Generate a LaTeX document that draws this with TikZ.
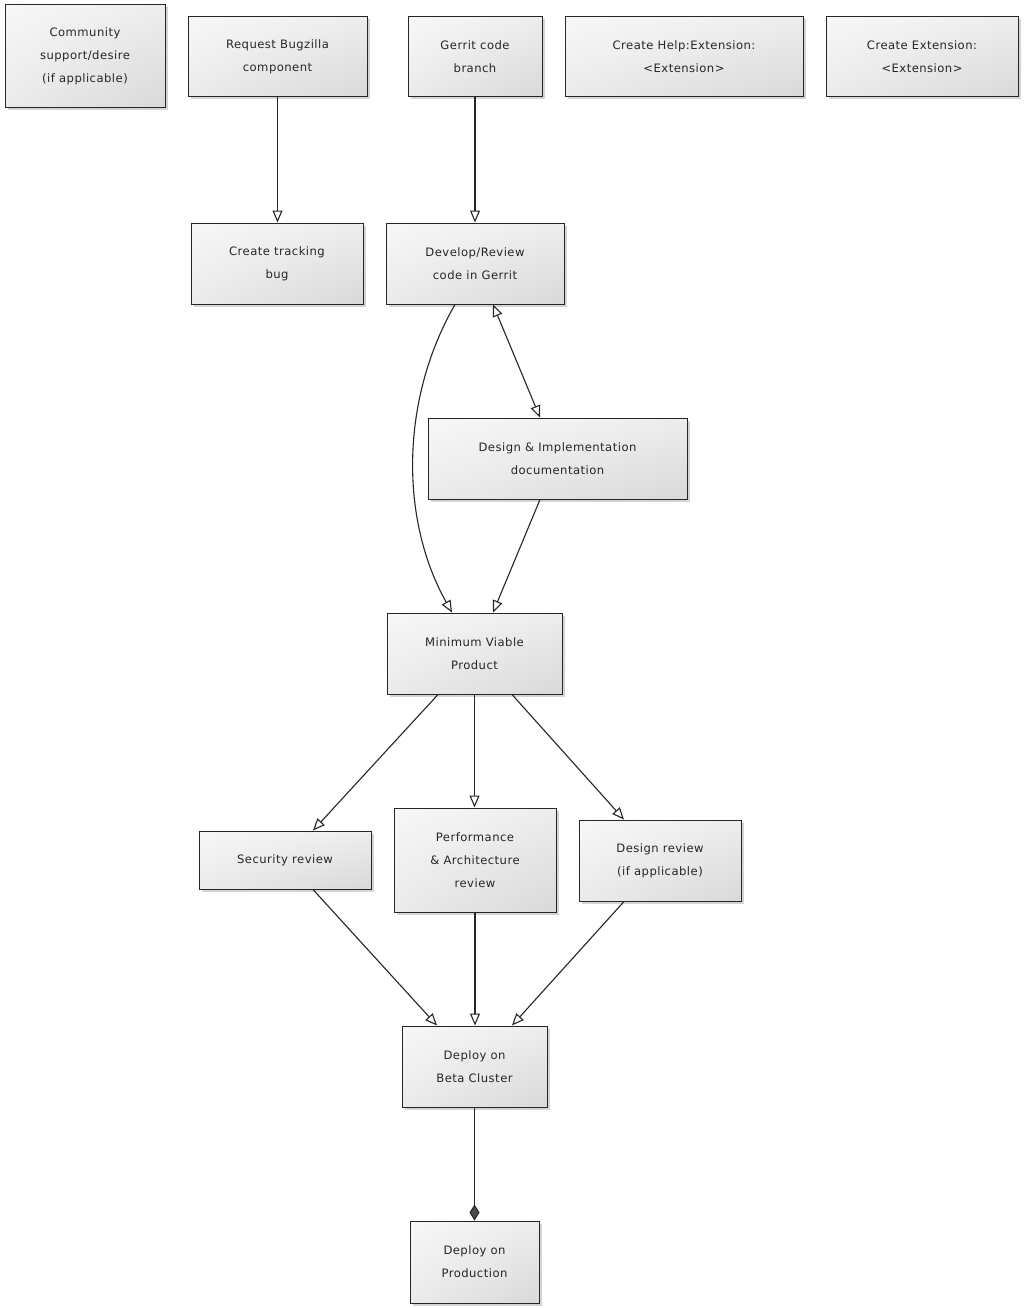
\documentclass[tikz,border=0pt]{standalone}
\usepackage{fontspec}
\setmainfont{DejaVu Sans}[LetterSpace=4]
\usetikzlibrary{arrows.meta,shadows,shadings}
\begin{document}
\begin{tikzpicture}[x=1pt,y=-1pt,
  box/.style={draw=black!85, line width=1pt, rectangle, inner sep=0pt, align=center,
    upper left=black!3, upper right=black!7, lower left=black!8, lower right=black!15,
    drop shadow={shadow xshift=2.5pt, shadow yshift=-2.5pt, opacity=0.3, fill=black!55},
    font={\fontsize{11.6}{23}\selectfont}, text=black!85},
  conn/.style={draw=black!85, line width=1.1pt, -{Triangle[open, length=12pt, width=10pt]}},
  both/.style={draw=black!85, line width=1.1pt, {Triangle[open, length=12pt, width=10pt]}-{Triangle[open, length=12pt, width=10pt]}},
  diam/.style={draw=black!85, line width=1.1pt, -{Diamond[length=16pt, width=10pt, fill=black!70]}}]
\useasboundingbox (0,0) rectangle (1024,1308);
\fill[white] (0,0) rectangle (1024,1308);

\node[box, minimum width=160pt, minimum height=103pt] (comm) at (85,56.5) {Community\\support/desire\\(if applicable)};
\node[box, minimum width=179pt, minimum height=80pt] (req) at (277.5,57) {Request Bugzilla\\component};
\node[box, minimum width=134pt, minimum height=80pt] (gerrit) at (475,57) {Gerrit code\\branch};
\node[box, minimum width=238pt, minimum height=80pt] (help) at (684,57) {Create Help:Extension:\\<Extension>};
\node[box, minimum width=192pt, minimum height=80pt] (ext) at (922,57) {Create Extension:\\<Extension>};
\node[box, minimum width=172pt, minimum height=81pt] (track) at (277,263.5) {Create tracking\\bug};
\node[box, minimum width=178pt, minimum height=81pt] (dev) at (475,263.5) {Develop/Review\\code in Gerrit};
\node[box, minimum width=259pt, minimum height=81pt] (design) at (557.5,458.5) {Design \& Implementation\\documentation};
\node[box, minimum width=175pt, minimum height=81pt] (mvp) at (474.5,653.5) {Minimum Viable\\Product};
\node[box, minimum width=172pt, minimum height=58pt] (sec) at (285,860) {Security review};
\node[box, minimum width=162pt, minimum height=104pt] (perf) at (475,860) {Performance\\\& Architecture\\review};
\node[box, minimum width=162pt, minimum height=81pt] (drev) at (660,860.5) {Design review\\(if applicable)};
\node[box, minimum width=145pt, minimum height=81pt] (beta) at (474.5,1066.5) {Deploy on\\Beta Cluster};
\node[box, minimum width=129pt, minimum height=82pt] (prod) at (474.5,1262) {Deploy on\\Production};

\draw[conn] (req.south) -- (req.south |- track.north);
\draw[conn] (gerrit.south) -- (dev.north);
\draw[both] ([xshift=18pt]dev.south) -- ([xshift=-17.5pt]design.north);
\draw[conn] ([xshift=-20pt]dev.south) .. controls (400,400) and (400,520) .. ([xshift=-22.5pt]mvp.north);
\draw[conn] ([xshift=-17.5pt]design.south) -- ([xshift=18.5pt]mvp.north);
\draw[conn] ([xshift=-36.5pt]mvp.south) -- ([xshift=28pt]sec.north);
\draw[conn] (mvp.south) -- (mvp.south |- perf.north);
\draw[conn] ([xshift=37.5pt]mvp.south) -- ([xshift=-36pt]drev.north);
\draw[conn] ([xshift=28pt]sec.south) -- ([xshift=-37.5pt]beta.north);
\draw[conn] (perf.south) -- (perf.south |- beta.north);
\draw[conn] ([xshift=-36pt]drev.south) -- ([xshift=37.5pt]beta.north);
\draw[diam] (beta.south) -- (prod.north);
\end{tikzpicture}
\end{document}
